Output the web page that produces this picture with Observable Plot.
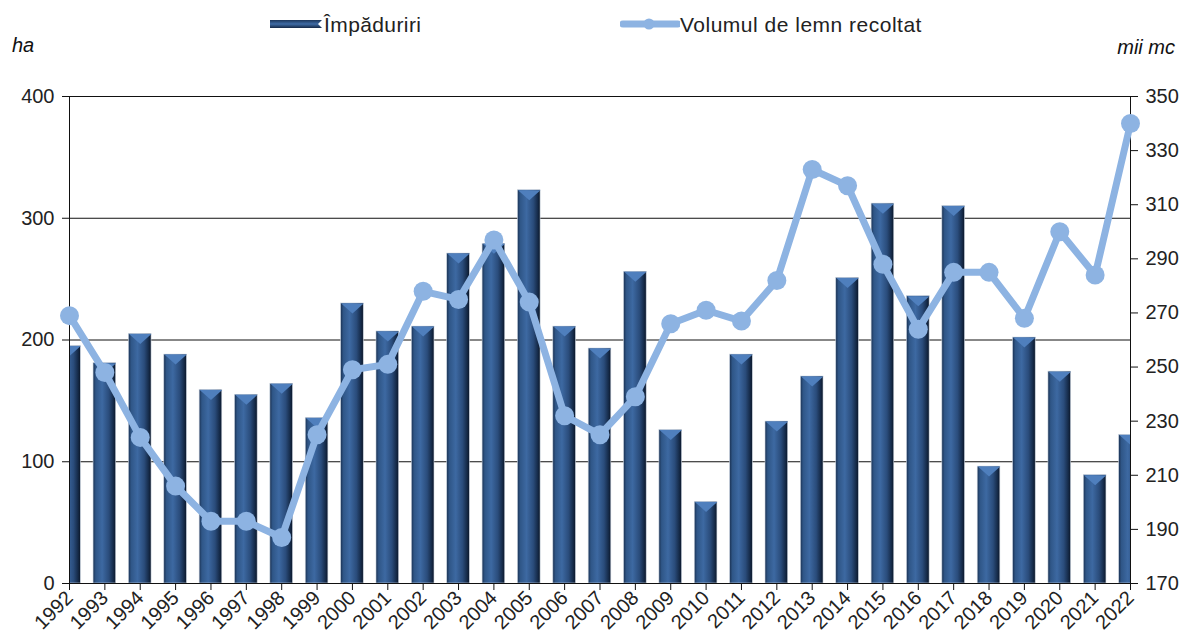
<!DOCTYPE html>
<html>
<head>
<meta charset="utf-8">
<script src="https://cdn.jsdelivr.net/npm/d3@7"></script>
<script src="https://cdn.jsdelivr.net/npm/@observablehq/plot@0.6"></script>
<style>
  html, body { margin: 0; padding: 0; background: #fff; }
  body { width: 1187px; height: 643px; overflow: hidden; font-family: "Liberation Sans", Arial, sans-serif; }
  #head { position: relative; height: 60px; }
  .lg { position: absolute; font-size: 21px; color: #222; white-space: nowrap; line-height: 21px; }
  .unit { position: absolute; font-size: 20px; font-style: italic; color: #111; line-height: 20px; }
</style>
</head>
<body>
<div id="head">
  <svg style="position:absolute;left:268px;top:17px" width="56" height="14">
    <defs>
      <linearGradient id="lgBar" x1="0" y1="0" x2="0" y2="1">
        <stop offset="0" stop-color="#1c365a"/>
        <stop offset="0.5" stop-color="#3f6ca6"/>
        <stop offset="1" stop-color="#142846"/>
      </linearGradient>
    </defs>
    <path d="M2,3 L54,3 L50,7 L54,11 L2,11 Z" fill="url(#lgBar)"/>
  </svg>
  <div class="lg" style="left:324px;top:14px;letter-spacing:0.4px">Împăduriri</div>
  <svg style="position:absolute;left:620px;top:14px" width="60" height="20">
    <line x1="3" y1="10" x2="58" y2="10" stroke="#8db3e2" stroke-width="7" stroke-linecap="round"/>
    <circle cx="29" cy="10" r="5.5" fill="#8db3e2"/>
  </svg>
  <div class="lg" style="left:680px;top:14px;letter-spacing:0.5px">Volumul de lemn recoltat</div>
  <div class="unit" style="left:12px;top:35px">ha</div>
  <div class="unit" style="right:12px;top:37px">mii mc</div>
</div>
<div id="chart"></div>
<script>
const years = [1992,1993,1994,1995,1996,1997,1998,1999,2000,2001,2002,2003,2004,2005,2006,2007,2008,2009,2010,2011,2012,2013,2014,2015,2016,2017,2018,2019,2020,2021,2022];
const impaduriri = [195,181,205,188,159,155,164,136,230,207,211,271,279,323,211,193,256,126,67,188,133,170,251,312,236,310,96,202,174,89,122];
const volum = [269,248,224,206,193,193,187,225,249,251,278,275,297,274,232,225,239,266,271,267,282,323,317,288,264,285,285,268,300,284,340];
const leftTicks = [0,100,200,300,400];
const rightTicks = [170,190,210,230,250,270,290,310,330,350];

const data = years.map((y, i) => ({year: y, ha: impaduriri[i], vol: volum[i]}));

// right axis (mii mc 170..350) mapped onto left axis (ha 0..400)
const rMin = 170, rMax = 350, lMax = 400;
const toLeft = v => (v - rMin) / (rMax - rMin) * lMax;
const fromLeft = v => Math.round(rMin + v / lMax * (rMax - rMin));

const halfBar = 0.32;
const bevel = {
  draw(ctx) {
    const w = 11.2, h = 10;
    ctx.moveTo(-w, 0);
    ctx.lineTo(w, 0);
    ctx.lineTo(0, h);
    ctx.closePath();
  }
};

const plot = Plot.plot({
  width: 1187,
  height: 583,
  marginLeft: 69,
  marginRight: 57,
  marginTop: 36,
  marginBottom: 60,
  style: {fontFamily: "'Liberation Sans', Arial, sans-serif", fontSize: "20px", background: "#fff", color: "#222", overflow: "visible"},
  x: {type: "linear", domain: [1992, 2022]},
  y: {domain: [0, 400]},
  marks: [
    Plot.gridY([100, 200, 300, 400], {stroke: "#111", strokeOpacity: 1, strokeWidth: 1}),
    Plot.rectY(data, {x1: d => d.year - halfBar, x2: d => d.year + halfBar, y: "ha", fill: "url(#barGrad)", stroke: "#c9d3df", strokeWidth: 0.6, clip: "frame"}),
    Plot.dot(data, {x: "year", y: "ha", symbol: bevel, r: 5, fill: "#4f7fbd", stroke: "none", clip: "frame"}),
    Plot.ruleY([0], {stroke: "#111", strokeWidth: 1.2}),
    Plot.ruleX([1992], {stroke: "#111", strokeWidth: 1}),
    Plot.ruleX([2022], {stroke: "#111", strokeWidth: 1}),
    Plot.axisY(leftTicks, {anchor: "left", tickSize: 7, tickPadding: 8, tickFormat: d => d, label: null, stroke: "#111", fontSize: 20}),
    Plot.axisY(rightTicks.map(toLeft), {anchor: "right", tickSize: 7, tickPadding: 8, tickFormat: d => fromLeft(d), label: null, stroke: "#111", fontSize: 20}),
    Plot.axisX(years, {tickSize: 7, tickPadding: 4, tickRotate: -45, tickFormat: d => String(d), label: null, stroke: "#111", fontSize: 20}),
    Plot.line(data, {x: "year", y: d => toLeft(d.vol), stroke: "#8db3e2", strokeWidth: 7, strokeLinejoin: "round"}),
    Plot.dot(data, {x: "year", y: d => toLeft(d.vol), r: 9.5, fill: "#8db3e2", stroke: "none"})
  ]
});

const svg = d3.select(plot);
const defs = svg.insert("defs", ":first-child");
const g = defs.append("linearGradient").attr("id", "barGrad").attr("x1", 0).attr("x2", 1).attr("y1", 0).attr("y2", 0);
[["0", "#1a3152"], ["0.12", "#2f5687"], ["0.4", "#3d69a2"], ["0.7", "#2a4c7b"], ["0.9", "#152a48"], ["1", "#0b1628"]]
  .forEach(([o, c]) => g.append("stop").attr("offset", o).attr("stop-color", c));

document.getElementById("chart").appendChild(plot);
</script>
</body>
</html>
